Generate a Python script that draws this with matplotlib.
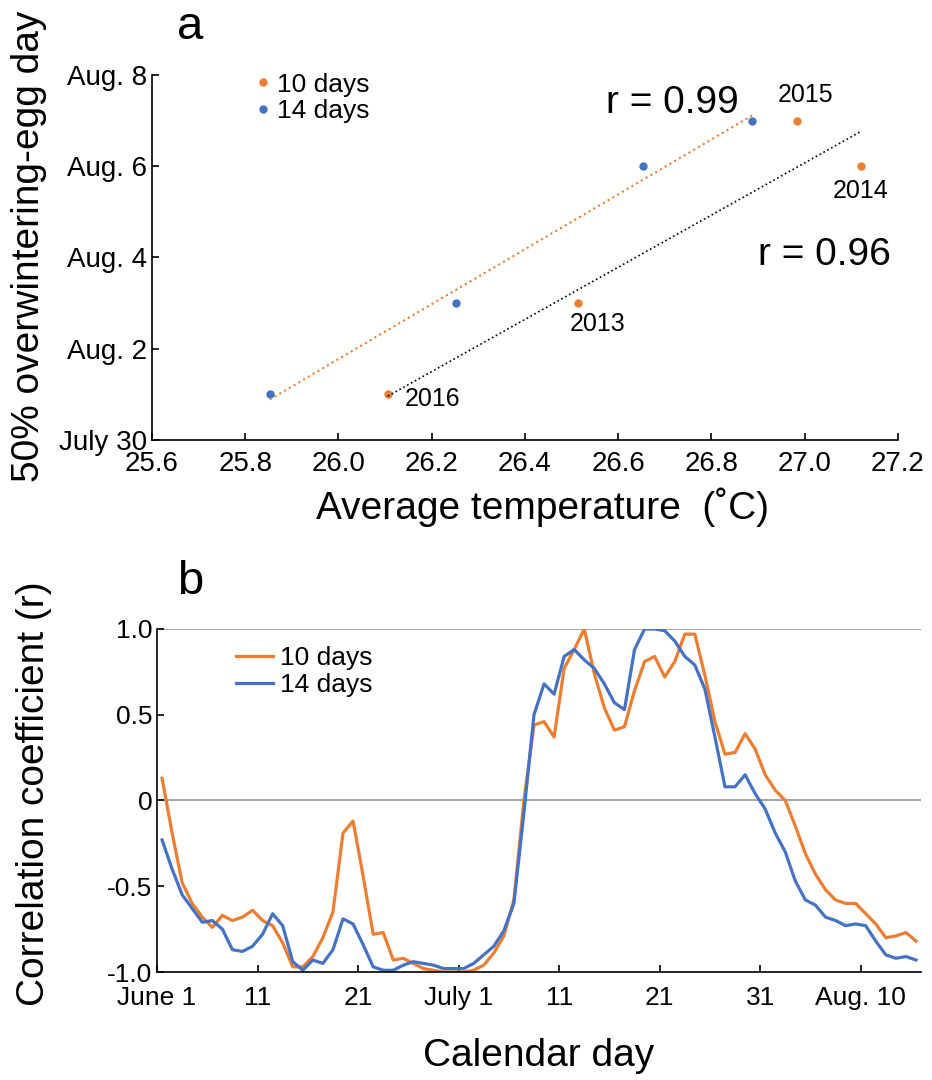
import matplotlib.pyplot as plt
import numpy as np

plt.rcParams['font.family'] = ['Liberation Sans', 'DejaVu Sans']

ORANGE = '#ED7D31'
BLUE = '#4472C4'

# ---- panel a: 50% overwintering-egg day vs average temperature ----
years = ['2016', '2013', '2014', '2015']
temp_10 = [26.106, 26.514, 27.121, 26.984]
temp_14 = [25.853, 26.252, 26.654, 26.888]
egg_day = [1, 3, 6, 7]          # position on the date axis (July 30 = 0)
date_ticks = [0, 2, 4, 6, 8]
date_labels = ['July 30', 'Aug. 2', 'Aug. 4', 'Aug. 6', 'Aug. 8']
temp_ticks = [25.6, 25.8, 26.0, 26.2, 26.4, 26.6, 26.8, 27.0, 27.2]

# ---- panel b: correlation coefficient by calendar day (June 1 .. Aug 15) ----
r_10 = [0.13, -0.19, -0.48, -0.60, -0.68, -0.74, -0.67, -0.70, -0.68, -0.64,
        -0.70, -0.73, -0.83, -0.97, -0.97, -0.91, -0.80, -0.65, -0.19, -0.12,
        -0.44, -0.78, -0.77, -0.93, -0.92, -0.95, -0.98, -0.99, -1.00, -1.00,
        -1.00, -0.99, -0.96, -0.89, -0.79, -0.58, 0.00, 0.44, 0.46, 0.37,
        0.77, 0.88, 1.00, 0.74, 0.54, 0.41, 0.43, 0.64, 0.81, 0.84,
        0.72, 0.81, 0.97, 0.97, 0.73, 0.46, 0.27, 0.28, 0.39, 0.30,
        0.15, 0.06, 0.00, -0.15, -0.31, -0.43, -0.52, -0.58, -0.60, -0.60,
        -0.66, -0.72, -0.80, -0.79, -0.77, -0.82]
r_14 = [-0.23, -0.40, -0.55, -0.63, -0.71, -0.70, -0.75, -0.87, -0.88, -0.85,
        -0.78, -0.66, -0.73, -0.94, -0.99, -0.93, -0.95, -0.87, -0.69, -0.72,
        -0.84, -0.97, -0.99, -0.99, -0.96, -0.94, -0.95, -0.96, -0.98, -0.98,
        -0.98, -0.95, -0.90, -0.85, -0.76, -0.60, -0.07, 0.50, 0.68, 0.62,
        0.84, 0.88, 0.82, 0.77, 0.68, 0.57, 0.53, 0.88, 1.00, 1.00,
        0.99, 0.93, 0.84, 0.79, 0.65, 0.37, 0.08, 0.08, 0.15, 0.04,
        -0.05, -0.19, -0.30, -0.47, -0.58, -0.61, -0.68, -0.70, -0.73, -0.72,
        -0.73, -0.82, -0.90, -0.92, -0.91, -0.93]
day_ticks = [0, 10, 20, 30, 40, 50, 60, 70]
day_labels = ['June 1', '11', '21', 'July 1', '11', '21', '31', 'Aug. 10']
r_ticks = [-1.0, -0.5, 0, 0.5, 1.0]
r_labels = ['-1.0', '-0.5', '0', '0.5', '1.0']

fig = plt.figure(figsize=(9.32, 10.8), dpi=100)

# panel a
ax1 = fig.add_axes([0.163, 0.5926, 0.8004, 0.338])
ax1.plot(temp_10, egg_day, 'o', color=ORANGE, markersize=5, label='10 days')
ax1.plot(temp_14, egg_day, 'o', color=BLUE, markersize=5, label='14 days')

# linear trend lines
k14, b14 = np.polyfit(temp_14, egg_day, 1)
xs = np.array([min(temp_14), max(temp_14)])
ax1.plot(xs, k14 * xs + b14, ':', color=ORANGE, lw=1.5)
k10, b10 = np.polyfit(temp_10, egg_day, 1)
xs = np.array([min(temp_10), max(temp_10)])
ax1.plot(xs, k10 * xs + b10, ':', color='black', lw=1.2)

offsets = {'2016': (0.037, -0.1), '2013': (0.043, -0.45),
           '2014': (0.0, -0.55), '2015': (0.017, 0.55)}
for yr, t, d in zip(years, temp_10, egg_day):
    dx, dy = offsets[yr]
    ha = 'left' if yr == '2016' else 'center'
    ax1.text(t + dx, d + dy, yr, fontsize=18, ha=ha, va='center')

ax1.text(26.716, 7.39, 'r = 0.99', fontsize=28, ha='center', va='center')
ax1.text(27.042, 4.06, 'r = 0.96', fontsize=28, ha='center', va='center')

ax1.set_xlim(25.6, 27.2)
ax1.set_ylim(0, 8)
ax1.set_xticks(temp_ticks)
ax1.set_xticklabels([f'{t:.1f}' for t in temp_ticks])
ax1.set_yticks(date_ticks)
ax1.set_yticklabels(date_labels)
ax1.tick_params(direction='in', length=5, width=1.2, labelsize=20)
ax1.tick_params(axis='x', pad=8)
for s in ['top', 'right']:
    ax1.spines[s].set_visible(False)
for s in ['left', 'bottom']:
    ax1.spines[s].set_linewidth(1.2)
ax1.set_xlabel('Average temperature  (˚C)', fontsize=28)
ax1.xaxis.set_label_coords(0.523, -0.13)
ax1.set_ylabel('50% overwintering-egg day', fontsize=28)
ax1.yaxis.set_label_coords(-0.14, 0.53)
ax1.legend(loc='upper left', bbox_to_anchor=(0.1, 1.035), frameon=False,
           fontsize=19, handletextpad=-0.5, labelspacing=0.1,
           borderaxespad=0)
fig.text(0.204, 0.975, 'a', fontsize=34, ha='center', va='center')

# panel b
ax2 = fig.add_axes([0.1685, 0.1, 0.8197, 0.3176])
days = np.arange(len(r_10))
ax2.axhline(0, color='#A6A6A6', lw=1.5, zorder=0)
ax2.axhline(1, color='#A6A6A6', lw=1.5, zorder=0)
ax2.plot(days, r_10, color=ORANGE, lw=2.3, label='10 days')
ax2.plot(days, r_14, color=BLUE, lw=2.3, label='14 days')
ax2.set_xlim(-0.5, len(r_10) - 0.5)
ax2.set_ylim(-1.0, 1.0)
ax2.set_xticks([d - 0.5 for d in day_ticks])
ax2.set_xticklabels(day_labels)
ax2.set_yticks(r_ticks)
ax2.set_yticklabels(r_labels)
ax2.tick_params(direction='in', length=5, width=1.2, labelsize=19)
ax2.tick_params(axis='x', pad=10)
for s in ['top', 'right']:
    ax2.spines[s].set_visible(False)
for s in ['left', 'bottom']:
    ax2.spines[s].set_linewidth(1.2)
ax2.set_xlabel('Calendar day', fontsize=28, labelpad=20)
ax2.set_ylabel('Correlation coefficient (r)', fontsize=28)
ax2.yaxis.set_label_coords(-0.138, 0.52)
ax2.legend(loc='upper left', bbox_to_anchor=(0.09, 0.98), frameon=False,
           fontsize=19, handlelength=1.4, handletextpad=0.25,
           labelspacing=0.1, borderaxespad=0)
fig.text(0.204, 0.461, 'b', fontsize=34, ha='center', va='center')

fig.savefig('out.png', dpi=100)
